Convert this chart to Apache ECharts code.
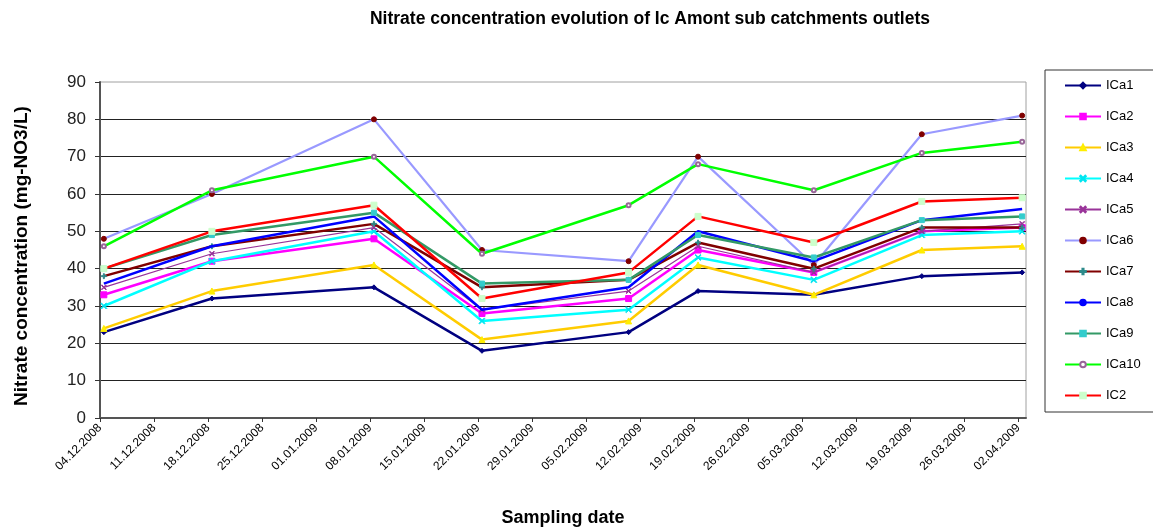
<!DOCTYPE html>
<html>
<head>
<meta charset="utf-8">
<title>Nitrate concentration evolution</title>
<script src="https://cdn.jsdelivr.net/npm/echarts@6/dist/echarts.min.js"></script>
<style>
  html, body { margin: 0; padding: 0; background: #fff; }
  #chart { width: 1153px; height: 530px; }
</style>
</head>
<body>
<div id="chart"></div>
<script>
// Sampling campaign dates (dd.mm.yyyy)
const sampleDates = ['04.12.2008', '18.12.2008', '08.01.2009', '22.01.2009', '10.02.2009',
                     '19.02.2009', '06.03.2009', '20.03.2009', '02.04.2009'];

// Weekly tick dates shown on the x axis
const tickDates = ['04.12.2008', '11.12.2008', '18.12.2008', '25.12.2008', '01.01.2009', '08.01.2009',
                   '15.01.2009', '22.01.2009', '29.01.2009', '05.02.2009', '12.02.2009', '19.02.2009',
                   '26.02.2009', '05.03.2009', '12.03.2009', '19.03.2009', '26.03.2009', '02.04.2009'];

const seriesNames = ['ICa1', 'ICa2', 'ICa3', 'ICa4', 'ICa5', 'ICa6', 'ICa7', 'ICa8', 'ICa9', 'ICa10', 'IC2'];

// Nitrate concentrations (mg-NO3/L) per outlet
const ICa1  = [23, 32, 35, 18, 23, 34, 33, 38, 39];
const ICa2  = [33, 42, 48, 28, 32, 45, 39, 50, 51];
const ICa3  = [24, 34, 41, 21, 26, 41, 33, 45, 46];
const ICa4  = [30, 42, 50, 26, 29, 43, 37, 49, 50];
const ICa5  = [35, 44, 51, 29, 34, 46, 39, 50, 52];
const ICa6  = [48, 60, 80, 45, 42, 70, 41, 76, 81];
const ICa7  = [38, 46, 52, 35, 37, 47, 40, 51, 51];
const ICa8  = [36, 46, 54, 29, 35, 50, 42, 53, 56];
const ICa9  = [40, 49, 55, 36, 37, 49, 43, 53, 54];
const ICa10 = [46, 61, 70, 44, 57, 68, 61, 71, 74];
const IC2   = [40, 50, 57, 32, 39, 54, 47, 58, 59];

const values = [ICa1, ICa2, ICa3, ICa4, ICa5, ICa6, ICa7, ICa8, ICa9, ICa10, IC2];

const FONT = 'Arial, "Liberation Sans", sans-serif';
const DAY = 86400000;

function parseDate(s) {
  const p = s.split('.');
  return Date.UTC(+p[2], +p[1] - 1, +p[0]);
}
const origin = parseDate(tickDates[0]);
function dayIndex(s) { return Math.round((parseDate(s) - origin) / DAY); }
function fmtDay(d) {
  const t = new Date(origin + Math.round(d) * DAY);
  const dd = String(t.getUTCDate()).padStart(2, '0');
  const mm = String(t.getUTCMonth() + 1).padStart(2, '0');
  return dd + '.' + mm + '.' + t.getUTCFullYear();
}

const tickDays = tickDates.map(dayIndex);
const lastDay = tickDays[tickDays.length - 1];

// Line / marker styling per series
const SYM_X = 'path://M0,1L1,0L5,4L9,0L10,1L6,5L10,9L9,10L5,6L1,10L0,9L4,5Z';
const SYM_PLUS = 'path://M4,0H6V4H10V6H6V10H4V6H0V4H4Z';
const styles = [
  { line: '#000080', width: 2.5, mark: '#000080', symbol: 'diamond', size: 5 },
  { line: '#FF00FF', width: 2.5, mark: '#FF00FF', symbol: 'rect', size: 6 },
  { line: '#FFCC00', width: 2.5, mark: '#FFEE00', symbol: 'triangle', size: 6 },
  { line: '#00FFFF', width: 2.5, mark: '#00E5F0', symbol: SYM_X, size: 6 },
  { line: '#993399', width: 1.2, mark: '#993399', symbol: SYM_X, size: 5 },
  { line: '#9999FF', width: 2.2, mark: '#800000', symbol: 'circle', size: 5 },
  { line: '#800000', width: 2.5, mark: '#2E8B8B', symbol: SYM_PLUS, size: 5 },
  { line: '#0000FF', width: 2.5, mark: '#0000FF', symbol: 'none', size: 0 },
  { line: '#339966', width: 2.5, mark: '#33CCCC', symbol: 'rect', size: 5 },
  { line: '#00FF00', width: 2.5, mark: '#996699', symbol: 'emptyCircle', size: 4 },
  { line: '#FF0000', width: 2.5, mark: '#CCFFCC', symbol: 'rect', size: 6 }
];

const series = seriesNames.map((name, i) => ({
  name: name,
  type: 'line',
  data: sampleDates.map((d, j) => [dayIndex(d) + 0.5, values[i][j]]),
  symbol: styles[i].symbol,
  symbolSize: styles[i].size,
  showSymbol: styles[i].symbol !== 'none',
  lineStyle: { color: styles[i].line, width: styles[i].width },
  itemStyle: { color: styles[i].mark, borderColor: styles[i].mark, borderWidth: 1 },
  emphasis: { disabled: true },
  animation: false,
  z: 2 + i
}));

const chart = echarts.init(document.getElementById('chart'), null, { renderer: 'canvas' });
chart.setOption({
  backgroundColor: '#fff',
  animation: false,
  title: {
    text: 'Nitrate concentration evolution of Ic Amont sub catchments outlets',
    left: 645, top: 5, textAlign: 'center',
    textStyle: { fontFamily: FONT, fontSize: 17.5, fontWeight: 'bold', color: '#000' }
  },
  legend: {
    orient: 'vertical',
    left: 1045, top: 70,
    padding: [9, 16, 10, 19],
    itemWidth: 36, itemHeight: 7, itemGap: 18,
    borderColor: '#333', borderWidth: 1,
    backgroundColor: '#fff',
    data: seriesNames,
    textStyle: { fontFamily: FONT, fontSize: 13, color: '#000' }
  },
  grid: {
    left: 100, right: 127, top: 82, bottom: 112,
    outerBoundsMode: 'none',
    containLabel: false,
    show: true, borderColor: '#a0a0a0', borderWidth: 1
  },
  xAxis: {
    type: 'value',
    min: 0, max: lastDay + 1,
    name: 'Sampling date',
    nameLocation: 'middle', nameGap: 91,
    nameTextStyle: { fontFamily: FONT, fontSize: 18, fontWeight: 'bold', color: '#000' },
    axisLine: { show: true, lineStyle: { color: '#555', width: 2 } },
    axisTick: { show: true, length: 4, customValues: tickDays, lineStyle: { color: '#333', width: 1 } },
    axisLabel: {
      customValues: tickDays,
      rotate: 45, margin: 8,
      fontFamily: FONT, fontSize: 12, color: '#000',
      formatter: v => fmtDay(v)
    },
    splitLine: { show: false }
  },
  yAxis: {
    type: 'value',
    min: 0, max: 90, interval: 10,
    name: 'Nitrate concentration (mg-NO3/L)',
    nameLocation: 'middle', nameGap: 69, nameRotate: 90,
    nameTextStyle: { fontFamily: FONT, fontSize: 19, fontWeight: 'bold', color: '#000', padding: [0, 12, 0, 0] },
    axisLine: { show: true, lineStyle: { color: '#555', width: 2 } },
    axisTick: { show: true, inside: false, length: 5, lineStyle: { color: '#333' } },
    axisLabel: { fontFamily: FONT, fontSize: 17, color: '#222', margin: 14 },
    splitLine: { show: true, showMaxLine: false, lineStyle: { color: '#222', width: 1.2 } }
  },
  series: series
});
</script>
</body>
</html>
